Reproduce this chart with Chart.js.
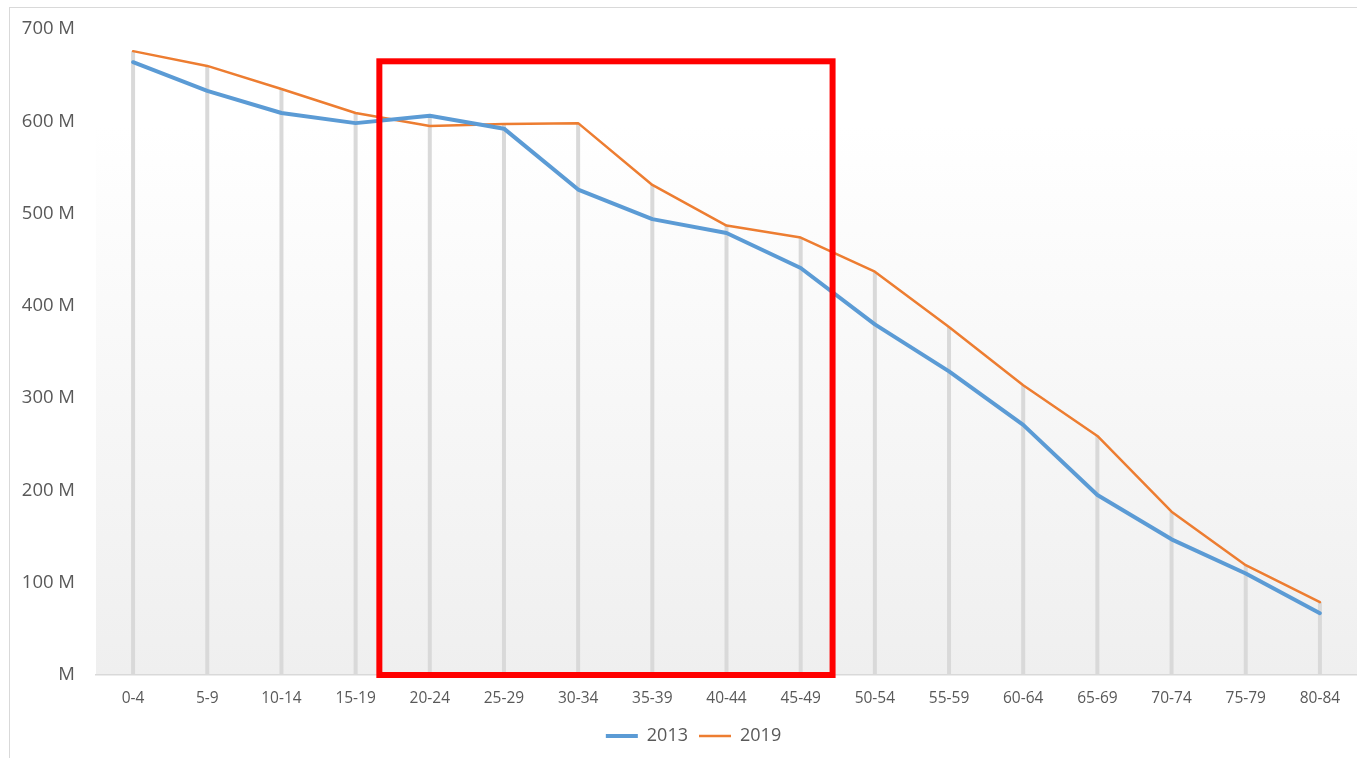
<!DOCTYPE html>
<html>
<head>
<meta charset="utf-8">
<script src="https://cdn.jsdelivr.net/npm/chart.js@4/dist/chart.umd.min.js"></script>
<style>
  html, body { margin: 0; padding: 0; background: #ffffff; overflow: hidden; }
  #wrap { position: relative; width: 1357px; height: 758px; }
  #frame { position: absolute; left: 9px; top: 7px; width: 1400px; height: 800px; border: 1px solid #d9d9d9; box-sizing: border-box; pointer-events: none; }
  canvas { position: absolute; left: 0; top: 0; }
</style>
</head>
<body>
<div id="wrap">
  <canvas id="c" width="1357" height="758"></canvas>
  <div id="frame"></div>
</div>
<script>
const categories = ['0-4','5-9','10-14','15-19','20-24','25-29','30-34','35-39','40-44','45-49','50-54','55-59','60-64','65-69','70-74','75-79','80-84'];
const series2013 = [664, 633, 609, 598, 606, 592, 526, 494, 479, 441, 380, 329, 271, 195, 147, 110, 67];
const series2019 = [676, 660, 635, 609, 595, 597, 598, 531, 487, 474, 437, 377, 314, 259, 177, 119, 79];
const yTicks = [0, 100, 200, 300, 400, 500, 600, 700];

const bgPlugin = {
  id: 'bgPlugin',
  beforeDraw(chart) {
    const {ctx, chartArea: a} = chart;
    const g = ctx.createLinearGradient(0, a.top, 0, a.bottom);
    g.addColorStop(0, '#ffffff');
    g.addColorStop(0.15, '#ffffff');
    g.addColorStop(1, '#efefef');
    ctx.save();
    ctx.fillStyle = g;
    ctx.fillRect(a.left, a.top - 10, a.right - a.left, a.bottom - a.top + 10);
    ctx.restore();
  }
};

const dropPlugin = {
  id: 'dropPlugin',
  beforeDatasetsDraw(chart) {
    const {ctx} = chart;
    const xs = chart.scales.x, ys = chart.scales.y;
    ctx.save();
    ctx.strokeStyle = '#d9d9d9';
    ctx.lineWidth = 4;
    for (let i = 0; i < categories.length; i++) {
      const v = Math.max(series2013[i], series2019[i]);
      const x = xs.getPixelForValue(i);
      ctx.beginPath();
      ctx.moveTo(x, ys.getPixelForValue(v));
      ctx.lineTo(x, ys.getPixelForValue(0));
      ctx.stroke();
    }
    ctx.restore();
  }
};

const boxPlugin = {
  id: 'boxPlugin',
  afterDraw(chart, args, opts) {
    const {ctx} = chart;
    const xs = chart.scales.x, ys = chart.scales.y;
    const x1 = xs.getPixelForValue(opts.x1), x2 = xs.getPixelForValue(opts.x2);
    const y1 = ys.getPixelForValue(opts.y1), y2 = ys.getPixelForValue(opts.y2);
    ctx.save();
    ctx.strokeStyle = '#ff0000';
    ctx.lineWidth = 6;
    ctx.lineJoin = 'miter';
    ctx.strokeRect(x1, y1, x2 - x1, y2 - y1);
    ctx.restore();
  }
};

const legendShift = {
  id: 'legendShift',
  afterLayout(chart) {
    const lg = chart.legend;
    if (lg) { lg.left += 30; lg.width -= 30; }
  }
};

Chart.defaults.font.family = '"Open Sans", "Noto Sans", sans-serif';
Chart.defaults.color = '#595959';

new Chart(document.getElementById('c'), {
  type: 'line',
  data: {
    labels: categories,
    datasets: [
      { label: '2013', data: series2013, borderColor: '#5b9bd5', backgroundColor: '#5b9bd5', borderWidth: 4, pointRadius: 0, tension: 0, borderCapStyle: 'round', borderJoinStyle: 'round' },
      { label: '2019', data: series2019, borderColor: '#ed7d31', backgroundColor: '#ed7d31', borderWidth: 2.5, pointRadius: 0, tension: 0, borderCapStyle: 'round', borderJoinStyle: 'round' }
    ]
  },
  options: {
    responsive: false,
    animation: false,
    layout: { padding: { top: 29, left: 0, right: 0, bottom: 3 } },
    plugins: {
      legend: {
        position: 'bottom',
        labels: { usePointStyle: true, pointStyle: 'line', pointStyleWidth: 32, font: { size: 18 }, color: '#595959', padding: 11 }
      },
      tooltip: { enabled: false },
      boxPlugin: { x1: 3.32, x2: 9.43, y1: 665, y2: 0 }
    },
    scales: {
      x: {
        offset: true,
        grid: { display: true, color: 'rgba(0,0,0,0)', drawTicks: false, drawOnChartArea: false },
        border: { display: true, color: '#d9d9d9', width: 1.5 },
        ticks: { font: { size: 15.5 }, color: '#595959', padding: 14, maxRotation: 0, autoSkip: false },
        afterFit(s) { s.height = 41; s.paddingLeft = 0; s.paddingRight = 0; }
      },
      y: {
        min: 0, max: 700,
        afterBuildTicks(s) { s.ticks = yTicks.map(v => ({ value: v })); },
        grid: { display: false, drawTicks: false },
        border: { display: false },
        ticks: { font: { size: 18.5 }, color: '#595959', padding: 21, callback: v => v === 0 ? 'M' : v + ' M' },
        afterFit(s) { s.width = 96; s.paddingTop = 0; s.paddingBottom = 0; }
      }
    }
  },
  plugins: [bgPlugin, dropPlugin, boxPlugin, legendShift]
});
</script>
</body>
</html>
